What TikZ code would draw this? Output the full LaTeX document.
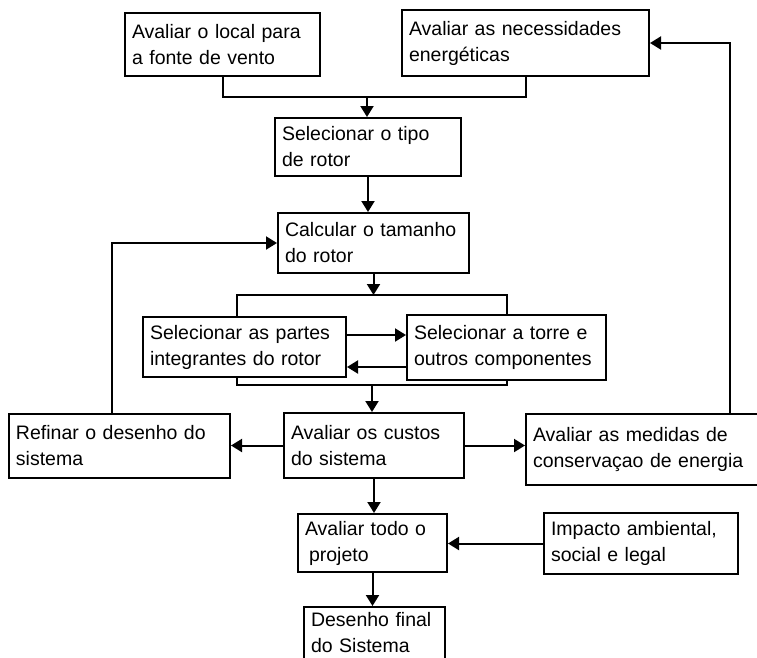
\documentclass[tikz,border=0pt]{standalone}
\usepackage{fontspec}
\setmainfont{Liberation Sans}
\usepackage{tikz}
\usetikzlibrary{shapes,arrows.meta}

\begin{document}
\begin{tikzpicture}[x=1pt, y=-1pt,
  caixa/.style={draw, black, line width=2pt, rectangle, anchor=north west, align=left, inner xsep=7pt, inner ysep=0pt, font=\fontsize{19.5}{26}\selectfont},
  linha/.style={black, line width=2pt},
  seta/.style={black, line width=2pt, -{Triangle[length=11pt, width=13pt]}}]
\useasboundingbox (0,0) rectangle (757,657);
\clip (0,0) rectangle (757,657);
\node[caixa, text width=181pt, minimum height=63pt] (local) at (124,12) {Avaliar o local para\\a fonte de vento};
\node[caixa, text width=233pt, minimum height=66pt] (necessidades) at (401,9) {Avaliar as necessidades\\energéticas};
\node[caixa, text width=172pt, minimum height=58pt] (tipo) at (274,117) {Selecionar o tipo\\de rotor};
\node[caixa, text width=177pt, minimum height=60pt] (tamanho) at (277,212) {Calcular o tamanho\\do rotor};
\node[caixa, text width=189pt, minimum height=60pt] (partes) at (142,316) {Selecionar as partes\\integrantes do rotor};
\node[caixa, text width=185pt, minimum height=65pt] (torre) at (406,314) {Selecionar a torre e\\outros componentes};
\node[caixa, text width=166pt, minimum height=65pt] (custos) at (283,412) {Avaliar os custos\\do sistema};
\node[caixa, text width=207pt, minimum height=64pt] (refinar) at (8,413) {Refinar o desenho do\\sistema};
\node[caixa, text width=226pt, minimum height=71pt] (medidas) at (525,413) {Avaliar as medidas de\\conservaçao de energia};
\node[caixa, text width=135pt, minimum height=58pt] (projeto) at (297,513) {Avaliar todo o\\\hspace*{4pt}projeto};
\node[caixa, text width=180pt, minimum height=61pt] (impacto) at (543,512) {Impacto ambiental,\\social e legal};
\node[caixa, text width=127pt, minimum height=52pt] (final) at (303,606) {Desenho final\\do Sistema};
\coordinate (juncao) at (367,97);
\coordinate (topo) at (372,295);
\coordinate (fundo) at (372,385);
\coordinate (colchete) at (237,0);
\coordinate (volta) at (112,0);
\coordinate (retorno) at (730,0);
\draw[linha] (local.south) |- (juncao) -| (necessidades.south);
\draw[seta] (juncao) -- (juncao |- tipo.north);
\draw[seta] (tipo.south) -- (tipo.south |- tamanho.north);
\draw[seta] (tamanho.south) -- (tamanho.south |- topo);
\draw[linha] (partes.north -| colchete) |- (topo) -| (torre.north);
\draw[linha] (partes.south -| colchete) |- (fundo) -| (torre.south);
\draw[seta] ([yshift=12pt]partes.east) -- ([yshift=12pt]partes.east -| torre.west);
\draw[seta] ([yshift=-20pt]partes.east -| torre.west) -- ([yshift=-20pt]partes.east);
\draw[seta] (fundo) -- (fundo |- custos.north);
\draw[seta] (custos.west) -- (custos.west -| refinar.east);
\draw[seta] (custos.east) -- (custos.east -| medidas.west);
\draw[seta] (refinar.north -| volta) |- (tamanho.west);
\draw[seta] (medidas.north -| retorno) |- (necessidades.east);
\draw[seta] (custos.south) -- (custos.south |- projeto.north);
\draw[seta] (impacto.west) -- (impacto.west -| projeto.east);
\draw[seta] (projeto.south) -- (projeto.south |- final.north);
\end{tikzpicture}
\end{document}
